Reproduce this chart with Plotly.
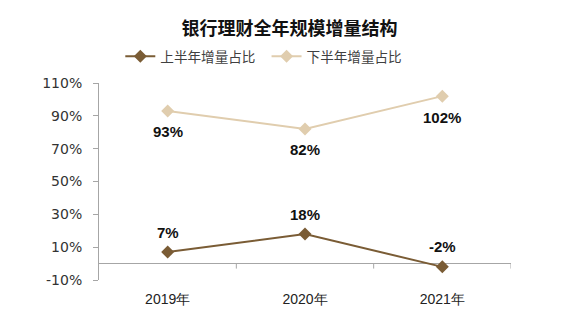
import plotly.graph_objects as go

categories = ["2019年", "2020年", "2021年"]
h1_values = [7, 18, -2]
h2_values = [93, 82, 102]
h1_labels = ["7%", "18%", "-2%"]
h2_labels = ["93%", "82%", "102%"]
y_ticks = [-10, 10, 30, 50, 70, 90, 110]
y_tick_text = ["-10%", "10%", "30%", "50%", "70%", "90%", "110%"]

xs = list(range(len(categories)))
dark = "#7A5C35"
light = "#E0CDAE"
label_font = dict(family="Arial, Liberation Sans", size=15, color="#111111", weight="bold")

fig = go.Figure()
fig.add_trace(go.Scatter(
    x=xs, y=h1_values, name="上半年增量占比\u00a0\u00a0", mode="lines+markers",
    line=dict(color=dark, width=2), marker=dict(symbol="diamond", size=10, color=dark),
))
fig.add_trace(go.Scatter(
    x=xs, y=h2_values, name="下半年增量占比", mode="lines+markers",
    line=dict(color=light, width=2), marker=dict(symbol="diamond", size=10, color=light),
))

for xv, yv, t in zip(xs, h1_values, h1_labels):
    fig.add_annotation(x=xv, y=yv, text=t, showarrow=False, yshift=20, font=label_font)
for xv, yv, t in zip(xs, h2_values, h2_labels):
    fig.add_annotation(x=xv, y=yv, text=t, showarrow=False, yshift=-21, font=label_font)

# category ticks hanging from the zero line
for b in [0.5, 1.5, 2.5]:
    fig.add_shape(type="line", xref="x", yref="y", x0=b, x1=b, y0=0, y1=-5,
                  ysizemode="pixel", yanchor=0, line=dict(color="#A6A6A6", width=1))

fig.update_layout(
    width=579, height=322,
    margin=dict(l=99, r=68, t=83, b=42),
    paper_bgcolor="white", plot_bgcolor="white",
    title=dict(text="<b>银行理财全年规模增量结构</b>", x=0.5, xanchor="center", y=0.91, yanchor="middle",
               font=dict(family="Noto Sans CJK SC", size=18, color="#111111")),
    legend=dict(orientation="h", x=0.40, xanchor="center", y=1.135, yanchor="middle",
                font=dict(family="Noto Sans CJK SC", size=13.6, color="#404040"),
                itemwidth=30, tracegroupgap=0),
    showlegend=True,
)
fig.update_xaxes(range=[-0.5, 2.5], tickvals=xs, ticktext=categories, showgrid=False,
                 showline=False, zeroline=False, ticks="outside", ticklen=6,
                 tickcolor="rgba(0,0,0,0)",
                 tickfont=dict(family="Arial, Liberation Sans", size=14, color="#222222"))
fig.update_yaxes(range=[-10, 110], tickvals=y_ticks, ticktext=y_tick_text, showgrid=False,
                 showline=True, linecolor="#A6A6A6", linewidth=1, ticks="outside", ticklen=5,
                 tickcolor="#A6A6A6", zeroline=True, zerolinecolor="#A6A6A6", zerolinewidth=1,
                 ticklabelstandoff=8,
                 tickfont=dict(family="Verdana, DejaVu Sans", size=14, color="#333333"))

fig.write_html("out.html")
